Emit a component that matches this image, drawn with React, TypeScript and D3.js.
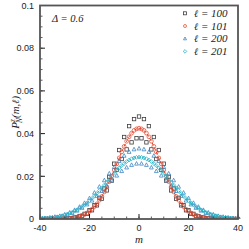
import React from 'react';
import * as d3 from 'd3';

const mValues: number[] = d3.range(-40, 41);

const seriesL100 = [
  0, 0, 0, 0, 0, 0, 0, 0, 0.0001, 0.0001, 0.0002, 0.0002, 0.0004, 0.0004, 0.0007, 0.0008, 0.0014, 0.0015, 0.0024, 0.0025,
  0.0041, 0.0041, 0.0065, 0.0064, 0.0099, 0.0095, 0.0143, 0.0134, 0.0197, 0.0180, 0.0259, 0.0230, 0.0323, 0.0281, 0.0384, 0.0326, 0.0435, 0.0359, 0.0468, 0.0378,
  0.0480,
  0.0378, 0.0468, 0.0359, 0.0435, 0.0326, 0.0384, 0.0281, 0.0323, 0.0230, 0.0259, 0.0180, 0.0197, 0.0134, 0.0143, 0.0095, 0.0099, 0.0064, 0.0065, 0.0041, 0.0041,
  0.0025, 0.0024, 0.0015, 0.0014, 0.0008, 0.0007, 0.0004, 0.0004, 0.0002, 0.0002, 0.0001, 0.0001, 0, 0, 0, 0, 0, 0, 0, 0,
];

const seriesL101 = [
  0, 0, 0, 0, 0, 0, 0, 0.0001, 0.0001, 0.0001, 0.0002, 0.0002, 0.0003, 0.0005, 0.0007, 0.0009, 0.0012, 0.0016, 0.0021, 0.0028,
  0.0036, 0.0046, 0.0058, 0.0071, 0.0088, 0.0106, 0.0127, 0.0150, 0.0175, 0.0201, 0.0229, 0.0258, 0.0286, 0.0314, 0.0340, 0.0364, 0.0385, 0.0402, 0.0415, 0.0422,
  0.0425,
  0.0422, 0.0415, 0.0402, 0.0385, 0.0364, 0.0340, 0.0314, 0.0286, 0.0258, 0.0229, 0.0201, 0.0175, 0.0150, 0.0127, 0.0106, 0.0088, 0.0071, 0.0058, 0.0046, 0.0036,
  0.0028, 0.0021, 0.0016, 0.0012, 0.0009, 0.0007, 0.0005, 0.0003, 0.0002, 0.0002, 0.0001, 0.0001, 0.0001, 0, 0, 0, 0, 0, 0, 0,
];

const seriesL200 = [
  0.0003, 0.0002, 0.0004, 0.0004, 0.0006, 0.0006, 0.0010, 0.0009, 0.0014, 0.0014, 0.0021, 0.0020, 0.0030, 0.0028, 0.0042, 0.0039, 0.0057, 0.0052, 0.0075, 0.0068,
  0.0097, 0.0086, 0.0123, 0.0108, 0.0151, 0.0131, 0.0181, 0.0155, 0.0213, 0.0180, 0.0243, 0.0203, 0.0271, 0.0224, 0.0296, 0.0241, 0.0314, 0.0253, 0.0326, 0.0259,
  0.0330,
  0.0259, 0.0326, 0.0253, 0.0314, 0.0241, 0.0296, 0.0224, 0.0271, 0.0203, 0.0243, 0.0180, 0.0213, 0.0155, 0.0181, 0.0131, 0.0151, 0.0108, 0.0123, 0.0086, 0.0097,
  0.0068, 0.0075, 0.0052, 0.0057, 0.0039, 0.0042, 0.0028, 0.0030, 0.0020, 0.0021, 0.0014, 0.0014, 0.0009, 0.0010, 0.0006, 0.0006, 0.0004, 0.0004, 0.0002, 0.0003,
];

const seriesL201 = [
  0.0002, 0.0003, 0.0004, 0.0004, 0.0006, 0.0007, 0.0009, 0.0010, 0.0013, 0.0015, 0.0019, 0.0022, 0.0027, 0.0031, 0.0037, 0.0043, 0.0050, 0.0058, 0.0066, 0.0075,
  0.0086, 0.0096, 0.0108, 0.0120, 0.0133, 0.0146, 0.0159, 0.0173, 0.0187, 0.0200, 0.0214, 0.0226, 0.0239, 0.0250, 0.0260, 0.0269, 0.0276, 0.0282, 0.0286, 0.0289,
  0.0290,
  0.0289, 0.0286, 0.0282, 0.0276, 0.0269, 0.0260, 0.0250, 0.0239, 0.0226, 0.0214, 0.0200, 0.0187, 0.0173, 0.0159, 0.0146, 0.0133, 0.0120, 0.0108, 0.0096, 0.0086,
  0.0075, 0.0066, 0.0058, 0.0050, 0.0043, 0.0037, 0.0031, 0.0027, 0.0022, 0.0019, 0.0015, 0.0013, 0.0010, 0.0009, 0.0007, 0.0006, 0.0004, 0.0004, 0.0003, 0.0002,
];

const yTicks = [0, 0.02, 0.04, 0.06, 0.08, 0.1];
const yTickLabels = ['0', '0.02', '0.04', '0.06', '0.08', '0.1'];
const yMinorTicks = d3.range(0, 0.1001, 0.005);
const xTicks = [-40, -20, 0, 20, 40];
const xTickLabels = ['-40', '-20', '0', '20', '40'];
const xMinorTicks = d3.range(-40, 40.01, 5);
const legendLabels = ['100', '101', '200', '201'];

const C_SQ = '#3c3c3c';
const C_CI = '#e4543c';
const C_TR = '#3f86c4';
const C_DI = '#2cb4c6';

const SERIF = 'Liberation Serif, Times New Roman, serif';
const ELL = 'DejaVu Serif, serif';

function marker(kind: string, cx: number, cy: number, s: number, color: string, key: string) {
  const sw = 0.8;
  if (kind === 'sq') return <rect key={key} x={cx - s / 2} y={cy - s / 2} width={s} height={s} fill="none" stroke={color} strokeWidth={sw} />;
  if (kind === 'ci') return <circle key={key} cx={cx} cy={cy} r={s / 2} fill="none" stroke={color} strokeWidth={sw} />;
  if (kind === 'tr') {
    const h = s * 0.9;
    return <path key={key} d={`M${cx},${cy - h / 1.6}L${cx + s / 2},${cy + h / 2.4}L${cx - s / 2},${cy + h / 2.4}Z`} fill="none" stroke={color} strokeWidth={sw} />;
  }
  const r = s / 2 + 0.3;
  return <path key={key} d={`M${cx},${cy - r}L${cx + r},${cy}L${cx},${cy + r}L${cx - r},${cy}Z`} fill="none" stroke={color} strokeWidth={sw} />;
}

export default function App() {
  const left = 40, right = 238, top = 5.5, bottom = 219;
  const x = d3.scaleLinear().domain([-40, 40]).range([left, right]);
  const y = d3.scaleLinear().domain([0, 0.1]).range([bottom, top]);
  const line = d3.line<number>().x((_, i) => x(mValues[i])).y((v) => y(v));

  const series = [
    { data: seriesL100, kind: 'sq', color: C_SQ, size: 3.4 },
    { data: seriesL101, kind: 'ci', color: C_CI, size: 3.8 },
    { data: seriesL200, kind: 'tr', color: C_TR, size: 3.8 },
    { data: seriesL201, kind: 'di', color: C_DI, size: 3.2 },
  ];

  return (
    <svg width={249} height={249} style={{ position: 'absolute', left: 0, top: 0, background: '#fff' }}>
      <defs>
        <clipPath id="plotclip">
          <rect x={left} y={top - 3} width={right - left + 3} height={bottom - top + 3} />
        </clipPath>
      </defs>
      <g clipPath="url(#plotclip)">
        {series.map((s, si) =>
          s.data.map((v, i) => marker(s.kind, x(mValues[i]), y(v), s.size, s.color, `m${si}-${i}`))
        )}
        <path d={line(seriesL101) || ''} fill="none" stroke="#e8412a" strokeWidth={1} strokeDasharray="3,2" />
        <path d={line(seriesL201) || ''} fill="none" stroke="#2ab8c8" strokeWidth={1} strokeDasharray="3,2" />
      </g>
      {yMinorTicks.map((t, i) => (
        <line key={`ym${i}`} x1={left} x2={left + 2.5} y1={y(t)} y2={y(t)} stroke="#333" strokeWidth={0.8} />
      ))}
      {xMinorTicks.map((t, i) => (
        <line key={`xm${i}`} x1={x(t)} x2={x(t)} y1={bottom} y2={bottom - 2.5} stroke="#333" strokeWidth={0.8} />
      ))}
      {yTicks.map((t, i) => (
        <line key={`yM${i}`} x1={left} x2={left + 5} y1={y(t)} y2={y(t)} stroke="#222" strokeWidth={1} />
      ))}
      {xTicks.map((t, i) => (
        <line key={`xM${i}`} x1={x(t)} x2={x(t)} y1={bottom} y2={bottom - 5} stroke="#222" strokeWidth={1} />
      ))}
      <rect x={left} y={top} width={right - left} height={bottom - top} fill="none" stroke="#555" strokeWidth={1.8} />
      {yTicks.map((t, i) => (
        <text key={`yl${i}`} x={left - 6} y={y(t) + 3.2} textAnchor="end" fontFamily="Liberation Sans, Arial, sans-serif" fontSize={9} fill="#222">
          {yTickLabels[i]}
        </text>
      ))}
      {xTicks.map((t, i) => (
        <text key={`xl${i}`} x={x(t)} y={231} textAnchor="middle" fontFamily="Liberation Sans, Arial, sans-serif" fontSize={9} fill="#222">
          {xTickLabels[i]}
        </text>
      ))}
      <text x={x(0)} y={243} textAnchor="middle" fontFamily={SERIF} fontStyle="italic" fontSize={11} fill="#222">m</text>
      <text transform={`translate(19,${(top + bottom) / 2}) rotate(-90)`} textAnchor="middle" fontFamily={SERIF} fontStyle="italic" fontSize={11} fill="#222">
        <tspan>P</tspan>
        <tspan fontSize={7.5} dy={-4}>z</tspan>
        <tspan fontSize={7.5} dx={-4} dy={7}>N</tspan>
        <tspan dy={-3}>(m,</tspan>
        <tspan fontFamily={ELL} fontSize={10}>ℓ</tspan>
        <tspan>)</tspan>
      </text>
      <text x={52} y={22} fontFamily={SERIF} fontStyle="italic" fontSize={10.5} fill="#222">Δ = 0.6</text>
      {legendLabels.map((lab, i) => {
        const ly = 13.3 + i * 12.7;
        return (
          <g key={`lg${i}`}>
            {marker(series[i].kind, 185, ly, 3, series[i].color, `lgm${i}`)}
            <text x={194} y={ly + 3.6} fontFamily={SERIF} fontStyle="italic" fontSize={11} fill="#222">
              <tspan fontFamily={ELL} fontSize={10}>ℓ</tspan>
              <tspan>{` = ${lab}`}</tspan>
            </text>
          </g>
        );
      })}
    </svg>
  );
}
